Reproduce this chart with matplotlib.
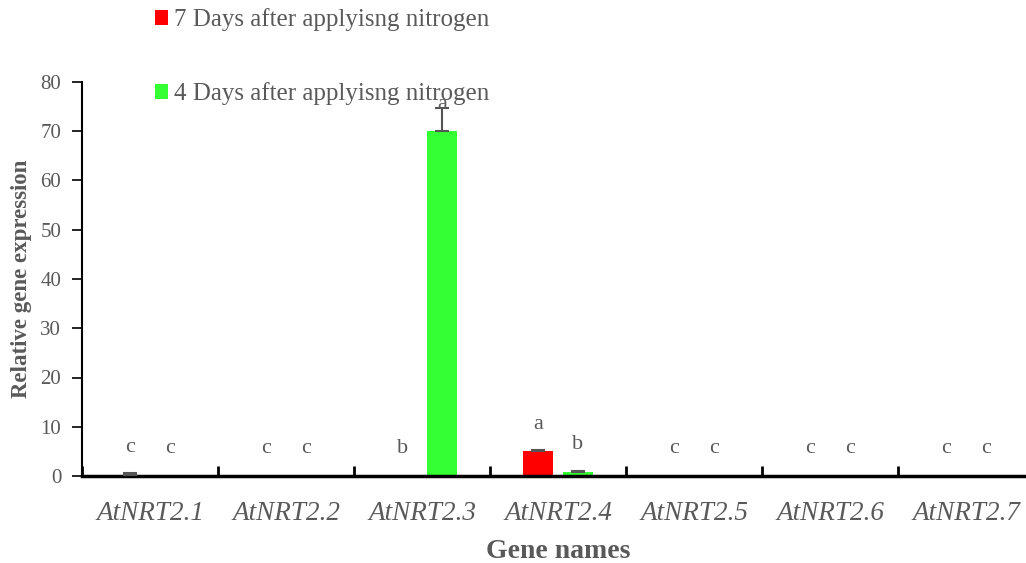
import matplotlib
matplotlib.use("Agg")
import matplotlib.pyplot as plt
import numpy as np
from matplotlib.patches import Patch

genes = ["AtNRT2.1", "AtNRT2.2", "AtNRT2.3", "AtNRT2.4", "AtNRT2.5", "AtNRT2.6", "AtNRT2.7"]
day7_values = [0.3, 0.0, 0.0, 5.0, 0.0, 0.0, 0.0]
day7_errors = [0.3, 0.0, 0.0, 0.3, 0.0, 0.0, 0.0]
day4_values = [0.0, 0.0, 70.0, 0.8, 0.0, 0.0, 0.0]
day4_errors = [0.0, 0.0, 4.7, 0.2, 0.0, 0.0, 0.0]
day7_letters = ["c", "c", "b", "a", "c", "c", "c"]
day4_letters = ["c", "c", "a", "b", "c", "c", "c"]
yticks = [0, 10, 20, 30, 40, 50, 60, 70, 80]
series_labels = ["7 Days after applyisng nitrogen", "4 Days after applyisng nitrogen"]

plt.rcParams['font.family'] = ['Liberation Serif', 'DejaVu Serif']
gray = "#595959"

fig = plt.figure(figsize=(10.26, 5.63), dpi=100)
ax = fig.add_axes([82/1026, 1-476/563, 952/1026, 394/563])

x = np.arange(len(genes))
w = 0.22
off = 0.145
red = "#ff0000"
green = "#33ff33"
ax.bar(x - off, day7_values, w, color=red, zorder=2)
ax.bar(x + off, day4_values, w, color=green, zorder=2)

for vals, errs, sign in [(day7_values, day7_errors, -1), (day4_values, day4_errors, 1)]:
    vals = np.array(vals)
    errs = np.array(errs)
    m = errs > 0
    ax.errorbar(x[m] + sign * off, vals[m], yerr=[np.zeros(m.sum()), errs[m]], fmt='none',
                ecolor="#555555", elinewidth=1.5, capsize=5, capthick=1.5, zorder=3)

pad = 3.6
for i in range(len(genes)):
    ax.text(x[i] - off, day7_values[i] + pad, day7_letters[i], ha='center', va='bottom',
            fontsize=16, color=gray, zorder=4)
    ax.text(x[i] + off, day4_values[i] + pad, day4_letters[i], ha='center', va='bottom',
            fontsize=16, color=gray, zorder=4)

ax.set_xlim(-0.5, 6.5)
ax.set_ylim(0, 80)
ax.set_yticks(yticks)
ax.set_yticklabels([str(t) for t in yticks], fontsize=15, color=gray)
ax.set_xticks(np.arange(-0.5, 6.5, 1.0))
ax.set_xticklabels([])
ax.set_xticks(x, minor=True)
ax.set_xticklabels(genes, minor=True, fontsize=19.5, style='italic', color=gray)
ax.tick_params(axis='x', which='minor', length=0, pad=18)
ax.tick_params(axis='x', which='major', direction='in', length=7, width=2)
ax.tick_params(axis='y', direction='out', length=7, width=1.2, pad=8)
for s in ['top', 'right']:
    ax.spines[s].set_visible(False)
ax.spines['left'].set_linewidth(1.5)
ax.spines['bottom'].set_linewidth(2.5)

ax.set_xlabel("Gene names", fontsize=20, fontweight='bold', color=gray, labelpad=9)
ax.set_ylabel("Relative gene expression", fontsize=16.5, fontweight='bold', color=gray, labelpad=6)

handles = [Patch(facecolor=red, edgecolor='none'), Patch(facecolor=green, edgecolor='none')]
leg = fig.legend(handles, series_labels, loc='upper left', bbox_to_anchor=(132/1026, 1.0 + 14/563),
                 frameon=False, fontsize=18, labelspacing=2.03, handlelength=0.55,
                 handleheight=0.55, handletextpad=0.25, labelcolor=gray)

fig.savefig("out.png", dpi=100)
